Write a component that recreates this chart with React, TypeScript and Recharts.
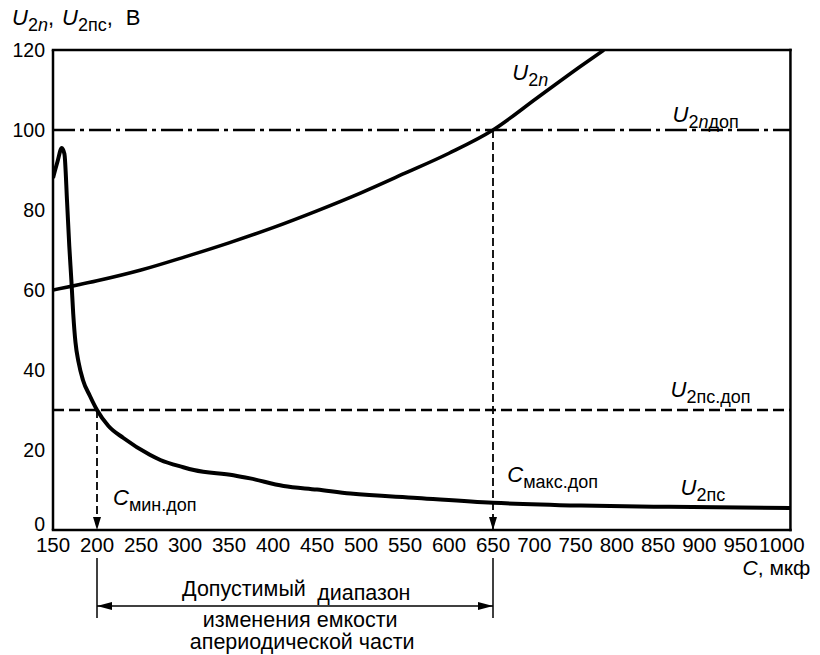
import React from 'react';
import { LineChart, Line, XAxis, YAxis, ReferenceLine, ReferenceDot } from 'recharts';

const xTicks = [150, 200, 250, 300, 350, 400, 450, 500, 550, 600, 650, 700, 750, 800, 850, 900, 950, 1000];
const yTicks = [0, 20, 40, 60, 80, 100, 120];

const u2nC = [150, 200, 250, 300, 350, 400, 450, 500, 550, 600, 650, 700, 750, 776];
const u2nV = [60, 62.3, 65, 68.3, 71.8, 75.6, 79.8, 84.3, 89.2, 94.2, 100, 108, 116, 120];

const u2psC = [150, 155, 160, 163, 166, 168.5, 171, 173, 175.5, 179, 184, 192, 200, 213, 230, 260, 272, 298, 310, 355, 374, 412, 450, 488, 564, 650, 750, 850, 988];
const u2psV = [88, 92, 95.5, 94, 82, 71, 62, 54, 47, 42, 37.5, 33.5, 30, 26, 23, 18.8, 17.5, 15.7, 15, 13.7, 12.9, 11, 10.1, 9.1, 8, 6.8, 6.1, 5.8, 5.5];

const u2nDop = 100;
const u2psDop = 30;
const cMin = 200;
const cMax = 650;
const frameC = [150, 988];
const frameU = [0, 120];

const u2nData = u2nC.map((c, i) => ({ c, v: u2nV[i] }));
const u2psData = u2psC.map((c, i) => ({ c, v: u2psV[i] }));

const FONT = 'Liberation Sans, Arial, Helvetica, sans-serif';
const BIG = 22;
const SUB = 18;
const SH = 6;

const Sym = (main: string, sub: string) => (p: any) => (
  <text x={p.cx} y={p.cy} fontFamily={FONT} fontSize={BIG} fill="#000">
    <tspan fontStyle="italic">{main}</tspan>
    <tspan fontSize={SUB} dy={SH}>{sub}</tspan>
  </text>
);

const U2nLabel = (p: any) => (
  <text x={p.cx} y={p.cy} fontFamily={FONT} fontSize={BIG} fill="#000">
    <tspan fontStyle="italic">U</tspan>
    <tspan fontSize={SUB} dy={SH}>2</tspan>
    <tspan fontSize={SUB} fontStyle="italic">n</tspan>
  </text>
);

const U2nDopLabel = (p: any) => (
  <text x={p.cx} y={p.cy} fontFamily={FONT} fontSize={BIG} fill="#000">
    <tspan fontStyle="italic">U</tspan>
    <tspan fontSize={SUB} dy={SH}>2</tspan>
    <tspan fontSize={SUB} fontStyle="italic">n</tspan>
    <tspan fontSize={SUB}>доп</tspan>
  </text>
);

const TitleLabel = (p: any) => (
  <text x={p.cx} y={p.cy} fontFamily={FONT} fontSize={BIG} fill="#000">
    <tspan fontStyle="italic">U</tspan>
    <tspan fontSize={SUB} dy={SH}>2</tspan>
    <tspan fontSize={SUB} fontStyle="italic">n</tspan>
    <tspan dy={-SH}>,</tspan>
    <tspan fontStyle="italic" dx={8}>U</tspan>
    <tspan fontSize={SUB} dy={SH}>2пс</tspan>
    <tspan dy={-SH}>,</tspan>
    <tspan dx={13}>В</tspan>
  </text>
);

const XTitle = (p: any) => (
  <text x={p.cx} y={p.cy} fontFamily={FONT} fontSize={21} fill="#000">
    <tspan fontStyle="italic">C</tspan>
    <tspan>, мкф</tspan>
  </text>
);

const PlainText = (txt: string, anchor: 'start' | 'middle') => (p: any) => (
  <text x={p.cx} y={p.cy} fontFamily={FONT} fontSize={21.5} fill="#000" textAnchor={anchor}>
    {txt}
  </text>
);

const XTick = (p: any) => {
  const v = p.payload.value;
  const dx = v > 650 ? -(v - 650) * 0.055 : 0;
  return (
    <text x={p.x + dx} y={p.y + 14} textAnchor="middle" fontFamily={FONT} fontSize={20.5} fill="#000">
      {v}
    </text>
  );
};

const YTick = (p: any) => (
  <text
    x={p.x}
    y={p.payload.value === 0 ? p.y - 6 : p.y}
    textAnchor="end"
    dominantBaseline="central"
    fontFamily={FONT}
    fontSize={19.5}
    fill="#000"
  >
    {p.payload.value}
  </text>
);

const DownArrow = (p: any) => (
  <polygon points={`${p.cx - 4},${p.cy - 13} ${p.cx + 4},${p.cy - 13} ${p.cx},${p.cy}`} fill="#000" />
);

const DoubleArrow = (p: any) => {
  const { x1, y1, x2, y2 } = p;
  return (
    <g>
      <line x1={x1} y1={y1} x2={x2} y2={y2} stroke="#000" strokeWidth={1.5} />
      <polygon points={`${x1},${y1} ${x1 + 15},${y1 - 4} ${x1 + 15},${y1 + 4}`} fill="#000" />
      <polygon points={`${x2},${y2} ${x2 - 15},${y2 - 4} ${x2 - 15},${y2 + 4}`} fill="#000" />
    </g>
  );
};

export default function App() {
  return (
    <div style={{ position: 'absolute', left: 0, top: 0, background: '#fff' }}>
      <LineChart width={820} height={655} margin={{ top: 50, right: 19, bottom: 95, left: 0 }}>
        <XAxis
          type="number"
          dataKey="c"
          domain={[150, 1000]}
          ticks={xTicks}
          interval={0}
          allowDataOverflow
          axisLine={false}
          tickLine={false}
          tickSize={0}
          tickMargin={8}
          height={30}
          tick={XTick}
        />
        <YAxis
          type="number"
          domain={[0, 120]}
          ticks={yTicks}
          interval={0}
          allowDataOverflow
          width={53}
          stroke="#000"
          strokeWidth={2.5}
          tickLine={false}
          tickSize={0}
          tickMargin={8}
          tick={YTick}
        />
        <ReferenceLine segment={[{ x: frameC[0], y: frameU[0] }, { x: frameC[1], y: frameU[0] }]} stroke="#000" strokeWidth={2.5} strokeLinecap="square" />
        <ReferenceLine segment={[{ x: frameC[0], y: frameU[1] }, { x: frameC[1], y: frameU[1] }]} stroke="#000" strokeWidth={2.5} strokeLinecap="square" />
        <ReferenceLine segment={[{ x: frameC[1], y: frameU[0] }, { x: frameC[1], y: frameU[1] }]} stroke="#000" strokeWidth={2.5} strokeLinecap="square" />
        <ReferenceLine segment={[{ x: frameC[0], y: u2nDop }, { x: frameC[1], y: u2nDop }]} stroke="#000" strokeWidth={2.5} strokeDasharray="22 5 4 5" />
        <ReferenceLine segment={[{ x: frameC[0], y: u2psDop }, { x: frameC[1], y: u2psDop }]} stroke="#000" strokeWidth={2.5} strokeDasharray="11 5" />
        <ReferenceLine segment={[{ x: cMin, y: u2psDop }, { x: cMin, y: 0 }]} stroke="#000" strokeWidth={1.8} strokeDasharray="8 4" />
        <ReferenceLine segment={[{ x: cMax, y: u2nDop }, { x: cMax, y: 0 }]} stroke="#000" strokeWidth={1.8} strokeDasharray="8 4" />
        <ReferenceDot x={cMin} y={0} shape={DownArrow} ifOverflow="visible" />
        <ReferenceDot x={cMax} y={0} shape={DownArrow} ifOverflow="visible" />

        <ReferenceLine segment={[{ x: cMin, y: -7 }, { x: cMin, y: -22 }]} stroke="#000" strokeWidth={1.5} ifOverflow="visible" />
        <ReferenceLine segment={[{ x: cMax, y: -7 }, { x: cMax, y: -22 }]} stroke="#000" strokeWidth={1.5} ifOverflow="visible" />
        <ReferenceLine segment={[{ x: cMin, y: -19 }, { x: cMax, y: -19 }]} ifOverflow="visible" shape={DoubleArrow} />

        <Line data={u2nData} dataKey="v" type="monotone" stroke="#000" strokeWidth={3.5} dot={false} isAnimationActive={false} />
        <Line data={u2psData} dataKey="v" type="monotone" stroke="#000" strokeWidth={4} dot={false} isAnimationActive={false} />

        <ReferenceDot x={103.4} y={126.25} shape={TitleLabel} ifOverflow="visible" />
        <ReferenceDot x={933.6} y={-11.25} shape={XTitle} ifOverflow="visible" />
        <ReferenceDot x={672} y={112.5} shape={U2nLabel} ifOverflow="visible" />
        <ReferenceDot x={854} y={102} shape={U2nDopLabel} ifOverflow="visible" />
        <ReferenceDot x={851.7} y={33.25} shape={Sym('U', '2пс.доп')} ifOverflow="visible" />
        <ReferenceDot x={666.3} y={12} shape={Sym('C', 'макс.доп')} ifOverflow="visible" />
        <ReferenceDot x={863.1} y={8.75} shape={Sym('U', '2пс')} ifOverflow="visible" />
        <ReferenceDot x={218.2} y={6.25} shape={Sym('C', 'мин.доп')} ifOverflow="visible" />

        <ReferenceDot x={296.7} y={-16.5} shape={PlainText('Допустимый', 'start')} ifOverflow="visible" />
        <ReferenceDot x={450.2} y={-17.5} shape={PlainText('диапазон', 'start')} ifOverflow="visible" />
        <ReferenceDot x={430.9} y={-24.25} shape={PlainText('изменения емкости', 'middle')} ifOverflow="visible" />
        <ReferenceDot x={433.2} y={-29.75} shape={PlainText('апериодической части', 'middle')} ifOverflow="visible" />
      </LineChart>
    </div>
  );
}
